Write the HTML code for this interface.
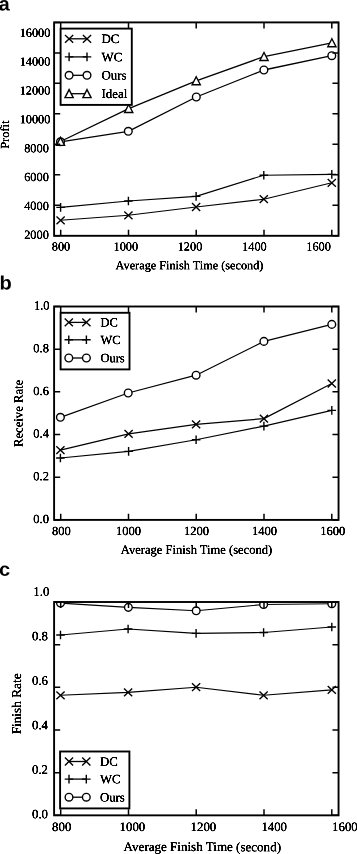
<!DOCTYPE html>
<html lang="en"><head><meta charset="utf-8"><title>Figure</title>
<style>html,body{margin:0;padding:0;background:#fff}svg{display:block}text{font-family:"Liberation Serif", serif;fill:#000}text.pl{font-family:"Liberation Sans", sans-serif;font-weight:bold}</style>
</head><body>
<svg width="357" height="854" viewBox="0 0 357 854">
<rect width="357" height="854" fill="#fff"/>
<defs><filter id="tw" filterUnits="userSpaceOnUse" x="0" y="0" width="357" height="854" color-interpolation-filters="sRGB"><feComponentTransfer><feFuncA type="linear" slope="2.0" intercept="0"/></feComponentTransfer></filter></defs>
<!-- chart a -->
<clipPath id="clip1"><rect x="54.1" y="22.4" width="284.45" height="213.4"/></clipPath>
<g clip-path="url(#clip1)">
<polyline points="60.6,220.3 128.4,215.3 196.1,207 263.8,199.2 331.8,182.8" fill="none" stroke="#000" stroke-width="1.15" stroke-linejoin="round"/>
<polyline points="60.6,207.4 128.4,201 196.1,196.4 263.8,175.2 331.8,174.4" fill="none" stroke="#000" stroke-width="1.15" stroke-linejoin="round"/>
<polyline points="60.5,141.8 128.3,131.3 196.3,97 263.9,70 331.8,55.7" fill="none" stroke="#000" stroke-width="1.3" stroke-linejoin="round"/>
<polyline points="60.5,141.5 128.7,108.6 196.2,80.8 264,56.6 331.9,42.9" fill="none" stroke="#000" stroke-width="1.3" stroke-linejoin="round"/>
<path d="M56.5 216.4L64.7 224.2M56.5 224.2L64.7 216.4" fill="none" stroke="#000" stroke-width="1.4"/>
<path d="M124.3 211.4L132.5 219.2M124.3 219.2L132.5 211.4" fill="none" stroke="#000" stroke-width="1.4"/>
<path d="M192 203.1L200.2 210.9M192 210.9L200.2 203.1" fill="none" stroke="#000" stroke-width="1.4"/>
<path d="M259.7 195.3L267.9 203.1M259.7 203.1L267.9 195.3" fill="none" stroke="#000" stroke-width="1.4"/>
<path d="M327.7 178.9L335.9 186.7M327.7 186.7L335.9 178.9" fill="none" stroke="#000" stroke-width="1.4"/>
<path d="M56.3 207.4L64.9 207.4M60.6 203.1L60.6 211.7" fill="none" stroke="#000" stroke-width="1.4"/>
<path d="M124.1 201L132.7 201M128.4 196.7L128.4 205.3" fill="none" stroke="#000" stroke-width="1.4"/>
<path d="M191.8 196.4L200.4 196.4M196.1 192.1L196.1 200.7" fill="none" stroke="#000" stroke-width="1.4"/>
<path d="M259.5 175.2L268.1 175.2M263.8 170.9L263.8 179.5" fill="none" stroke="#000" stroke-width="1.4"/>
<path d="M327.5 174.4L336.1 174.4M331.8 170.1L331.8 178.7" fill="none" stroke="#000" stroke-width="1.4"/>
<circle cx="60.5" cy="141.8" r="3.85" fill="#fff" stroke="#000" stroke-width="1.4"/>
<circle cx="128.3" cy="131.3" r="3.85" fill="#fff" stroke="#000" stroke-width="1.4"/>
<circle cx="196.3" cy="97" r="3.85" fill="#fff" stroke="#000" stroke-width="1.4"/>
<circle cx="263.9" cy="70" r="3.85" fill="#fff" stroke="#000" stroke-width="1.4"/>
<circle cx="331.8" cy="55.7" r="3.85" fill="#fff" stroke="#000" stroke-width="1.4"/>
<path d="M60.5 137.4L64.6 145.4L56.4 145.4Z" fill="#fff" stroke="#000" stroke-width="1.4" stroke-linejoin="miter"/>
<path d="M128.7 104.5L132.8 112.5L124.6 112.5Z" fill="#fff" stroke="#000" stroke-width="1.4" stroke-linejoin="miter"/>
<path d="M196.2 76.7L200.3 84.7L192.1 84.7Z" fill="#fff" stroke="#000" stroke-width="1.4" stroke-linejoin="miter"/>
<path d="M264 52.5L268.1 60.5L259.9 60.5Z" fill="#fff" stroke="#000" stroke-width="1.4" stroke-linejoin="miter"/>
<path d="M331.9 38.8L336 46.8L327.8 46.8Z" fill="#fff" stroke="#000" stroke-width="1.4" stroke-linejoin="miter"/>
</g>
<path d="M60.7 235.8V229.7M60.7 22.4V28.5M128.5 235.8V229.7M128.5 22.4V28.5M196.2 235.8V229.7M196.2 22.4V28.5M264 235.8V229.7M264 22.4V28.5M331.8 235.8V229.7M331.8 22.4V28.5M54.1 235.8H60.2M338.55 235.8H332.45M54.1 205.31H60.2M338.55 205.31H332.45M54.1 174.83H60.2M338.55 174.83H332.45M54.1 144.34H60.2M338.55 144.34H332.45M54.1 113.86H60.2M338.55 113.86H332.45M54.1 83.37H60.2M338.55 83.37H332.45M54.1 52.89H60.2M338.55 52.89H332.45M54.1 22.4H60.2M338.55 22.4H332.45" fill="none" stroke="#000" stroke-width="1.5"/>
<rect x="54.1" y="22.4" width="284.45" height="213.4" fill="none" stroke="#000" stroke-width="1.9"/>
<rect x="60.6" y="28.6" width="71.2" height="76.3" fill="#fff" stroke="#000" stroke-width="1.9"/>
<path d="M69.1 38.8H87" stroke="#000" stroke-width="1.3"/>
<path d="M65 34.9L73.2 42.7M65 42.7L73.2 34.9" fill="none" stroke="#000" stroke-width="1.4"/>
<path d="M82.9 34.9L91.1 42.7M82.9 42.7L91.1 34.9" fill="none" stroke="#000" stroke-width="1.4"/>
<path d="M69.1 56.9H87" stroke="#000" stroke-width="1.3"/>
<path d="M64.8 56.9L73.4 56.9M69.1 52.6L69.1 61.2" fill="none" stroke="#000" stroke-width="1.4"/>
<path d="M82.7 56.9L91.3 56.9M87 52.6L87 61.2" fill="none" stroke="#000" stroke-width="1.4"/>
<path d="M69.1 75.3H87" stroke="#000" stroke-width="1.3"/>
<circle cx="69.1" cy="75.3" r="3.85" fill="#fff" stroke="#000" stroke-width="1.4"/>
<circle cx="87" cy="75.3" r="3.85" fill="#fff" stroke="#000" stroke-width="1.4"/>
<path d="M69.1 93.7H87" stroke="#000" stroke-width="1.3"/>
<path d="M69.1 89.6L73.2 97.6L65 97.6Z" fill="#fff" stroke="#000" stroke-width="1.4" stroke-linejoin="miter"/>
<path d="M87 89.6L91.1 97.6L82.9 97.6Z" fill="#fff" stroke="#000" stroke-width="1.4" stroke-linejoin="miter"/>
<text transform="translate(-1.2 10.5) rotate(0.05) scale(1.0 1)" font-size="19.7" class="pl">a</text>
<!-- chart b -->
<clipPath id="clip2"><rect x="54.1" y="306.5" width="284.45" height="213.4"/></clipPath>
<g clip-path="url(#clip2)">
<polyline points="60.4,450.1 128.6,433.8 196.1,424.4 263.9,418.6 331.8,383.5" fill="none" stroke="#000" stroke-width="1.2" stroke-linejoin="round"/>
<polyline points="60.4,458 128.6,451.4 196.1,439.8 263.9,426.1 331.8,410.4" fill="none" stroke="#000" stroke-width="1.15" stroke-linejoin="round"/>
<polyline points="60.4,417.3 128.2,393 196.1,375.2 263.9,341.4 331.8,324.4" fill="none" stroke="#000" stroke-width="1.25" stroke-linejoin="round"/>
<path d="M56.3 446.2L64.5 454M56.3 454L64.5 446.2" fill="none" stroke="#000" stroke-width="1.4"/>
<path d="M124.5 429.9L132.7 437.7M124.5 437.7L132.7 429.9" fill="none" stroke="#000" stroke-width="1.4"/>
<path d="M192 420.5L200.2 428.3M192 428.3L200.2 420.5" fill="none" stroke="#000" stroke-width="1.4"/>
<path d="M259.8 414.7L268 422.5M259.8 422.5L268 414.7" fill="none" stroke="#000" stroke-width="1.4"/>
<path d="M327.7 379.6L335.9 387.4M327.7 387.4L335.9 379.6" fill="none" stroke="#000" stroke-width="1.4"/>
<path d="M56.1 458L64.7 458M60.4 453.7L60.4 462.3" fill="none" stroke="#000" stroke-width="1.4"/>
<path d="M124.3 451.4L132.9 451.4M128.6 447.1L128.6 455.7" fill="none" stroke="#000" stroke-width="1.4"/>
<path d="M191.8 439.8L200.4 439.8M196.1 435.5L196.1 444.1" fill="none" stroke="#000" stroke-width="1.4"/>
<path d="M259.6 426.1L268.2 426.1M263.9 421.8L263.9 430.4" fill="none" stroke="#000" stroke-width="1.4"/>
<path d="M327.5 410.4L336.1 410.4M331.8 406.1L331.8 414.7" fill="none" stroke="#000" stroke-width="1.4"/>
<circle cx="60.4" cy="417.3" r="3.85" fill="#fff" stroke="#000" stroke-width="1.4"/>
<circle cx="128.2" cy="393" r="3.85" fill="#fff" stroke="#000" stroke-width="1.4"/>
<circle cx="196.1" cy="375.2" r="3.85" fill="#fff" stroke="#000" stroke-width="1.4"/>
<circle cx="263.9" cy="341.4" r="3.85" fill="#fff" stroke="#000" stroke-width="1.4"/>
<circle cx="331.8" cy="324.4" r="3.85" fill="#fff" stroke="#000" stroke-width="1.4"/>
</g>
<path d="M60.7 519.9V513.8M60.7 306.5V312.6M128.5 519.9V513.8M128.5 306.5V312.6M196.2 519.9V513.8M196.2 306.5V312.6M264 519.9V513.8M264 306.5V312.6M331.8 519.9V513.8M331.8 306.5V312.6M54.1 519.9H60.2M338.55 519.9H332.45M54.1 477.22H60.2M338.55 477.22H332.45M54.1 434.54H60.2M338.55 434.54H332.45M54.1 391.86H60.2M338.55 391.86H332.45M54.1 349.18H60.2M338.55 349.18H332.45M54.1 306.5H60.2M338.55 306.5H332.45" fill="none" stroke="#000" stroke-width="1.5"/>
<rect x="54.1" y="306.5" width="284.45" height="213.4" fill="none" stroke="#000" stroke-width="1.9"/>
<rect x="60.6" y="312.8" width="68.9" height="56.6" fill="#fff" stroke="#000" stroke-width="1.9"/>
<path d="M68.8 322.4H86.4" stroke="#000" stroke-width="1.3"/>
<path d="M64.7 318.5L72.9 326.3M64.7 326.3L72.9 318.5" fill="none" stroke="#000" stroke-width="1.4"/>
<path d="M82.3 318.5L90.5 326.3M82.3 326.3L90.5 318.5" fill="none" stroke="#000" stroke-width="1.4"/>
<path d="M68.8 339.8H86.4" stroke="#000" stroke-width="1.3"/>
<path d="M64.5 339.8L73.1 339.8M68.8 335.5L68.8 344.1" fill="none" stroke="#000" stroke-width="1.4"/>
<path d="M82.1 339.8L90.7 339.8M86.4 335.5L86.4 344.1" fill="none" stroke="#000" stroke-width="1.4"/>
<path d="M68.8 358H86.4" stroke="#000" stroke-width="1.3"/>
<circle cx="68.8" cy="358" r="3.85" fill="#fff" stroke="#000" stroke-width="1.4"/>
<circle cx="86.4" cy="358" r="3.85" fill="#fff" stroke="#000" stroke-width="1.4"/>
<text transform="translate(-0.6 289.4) rotate(0.05) scale(1.03 1)" font-size="19.5" class="pl">b</text>
<!-- chart c -->
<clipPath id="clip3"><rect x="54.1" y="602" width="284.45" height="213.35"/></clipPath>
<g clip-path="url(#clip3)">
<polyline points="60.5,695.3 128.1,692.4 196.1,687.2 263.6,695.3 331.8,689.9" fill="none" stroke="#000" stroke-width="1.1" stroke-linejoin="round"/>
<polyline points="60.5,635 128.1,629 196.1,633.4 263.6,632.5 331.8,627" fill="none" stroke="#000" stroke-width="1.1" stroke-linejoin="round"/>
<polyline points="60.5,603.1 128.35,607.35 196.2,610.8 263.6,604.5 331.8,603.7" fill="none" stroke="#000" stroke-width="1.1" stroke-linejoin="round"/>
<path d="M56.4 691.4L64.6 699.2M56.4 699.2L64.6 691.4" fill="none" stroke="#000" stroke-width="1.4"/>
<path d="M124 688.5L132.2 696.3M124 696.3L132.2 688.5" fill="none" stroke="#000" stroke-width="1.4"/>
<path d="M192 683.3L200.2 691.1M192 691.1L200.2 683.3" fill="none" stroke="#000" stroke-width="1.4"/>
<path d="M259.5 691.4L267.7 699.2M259.5 699.2L267.7 691.4" fill="none" stroke="#000" stroke-width="1.4"/>
<path d="M327.7 686L335.9 693.8M327.7 693.8L335.9 686" fill="none" stroke="#000" stroke-width="1.4"/>
<path d="M56.2 635L64.8 635M60.5 630.7L60.5 639.3" fill="none" stroke="#000" stroke-width="1.4"/>
<path d="M123.8 629L132.4 629M128.1 624.7L128.1 633.3" fill="none" stroke="#000" stroke-width="1.4"/>
<path d="M191.8 633.4L200.4 633.4M196.1 629.1L196.1 637.7" fill="none" stroke="#000" stroke-width="1.4"/>
<path d="M259.3 632.5L267.9 632.5M263.6 628.2L263.6 636.8" fill="none" stroke="#000" stroke-width="1.4"/>
<path d="M327.5 627L336.1 627M331.8 622.7L331.8 631.3" fill="none" stroke="#000" stroke-width="1.4"/>
<circle cx="60.5" cy="603.1" r="3.85" fill="#fff" stroke="#000" stroke-width="1.4"/>
<circle cx="128.35" cy="607.35" r="3.85" fill="#fff" stroke="#000" stroke-width="1.4"/>
<circle cx="196.2" cy="610.8" r="3.85" fill="#fff" stroke="#000" stroke-width="1.4"/>
<circle cx="263.6" cy="604.5" r="3.85" fill="#fff" stroke="#000" stroke-width="1.4"/>
<circle cx="331.8" cy="603.7" r="3.85" fill="#fff" stroke="#000" stroke-width="1.4"/>
</g>
<path d="M60.7 815.35V809.25M60.7 602V608.1M128.5 815.35V809.25M128.5 602V608.1M196.2 815.35V809.25M196.2 602V608.1M264 815.35V809.25M264 602V608.1M331.8 815.35V809.25M331.8 602V608.1M54.1 815.35H60.2M338.55 815.35H332.45M54.1 772.68H60.2M338.55 772.68H332.45M54.1 730.01H60.2M338.55 730.01H332.45M54.1 687.34H60.2M338.55 687.34H332.45M54.1 644.67H60.2M338.55 644.67H332.45M54.1 602H60.2M338.55 602H332.45" fill="none" stroke="#000" stroke-width="1.5"/>
<rect x="54.1" y="602" width="284.45" height="213.35" fill="none" stroke="#000" stroke-width="1.9"/>
<rect x="60.1" y="751.5" width="69.3" height="56.9" fill="#fff" stroke="#000" stroke-width="1.9"/>
<path d="M69 761.5H86.3" stroke="#000" stroke-width="1.3"/>
<path d="M64.9 757.6L73.1 765.4M64.9 765.4L73.1 757.6" fill="none" stroke="#000" stroke-width="1.4"/>
<path d="M82.2 757.6L90.4 765.4M82.2 765.4L90.4 757.6" fill="none" stroke="#000" stroke-width="1.4"/>
<path d="M69 779.1H86.3" stroke="#000" stroke-width="1.3"/>
<path d="M64.7 779.1L73.3 779.1M69 774.8L69 783.4" fill="none" stroke="#000" stroke-width="1.4"/>
<path d="M82 779.1L90.6 779.1M86.3 774.8L86.3 783.4" fill="none" stroke="#000" stroke-width="1.4"/>
<path d="M69 797.2H86.3" stroke="#000" stroke-width="1.3"/>
<circle cx="69" cy="797.2" r="3.85" fill="#fff" stroke="#000" stroke-width="1.4"/>
<circle cx="86.3" cy="797.2" r="3.85" fill="#fff" stroke="#000" stroke-width="1.4"/>
<text transform="translate(-0.9 575.7) rotate(0.05) scale(1.06 1)" font-size="18.9" class="pl">c</text>
<g filter="url(#tw)">
<text transform="translate(101.5 43.06) rotate(0.05)" font-size="12.9">DC</text>
<text transform="translate(101.5 61.16) rotate(0.05)" font-size="12.9">WC</text>
<text transform="translate(101.5 79.56) rotate(0.05)" font-size="12.9">Ours</text>
<text transform="translate(101.5 97.96) rotate(0.05)" font-size="12.9">Ideal</text>
<text transform="translate(48.8 238.76) rotate(0.05)" font-size="12.3" text-anchor="end">2000</text>
<text transform="translate(48.8 209.89) rotate(0.05)" font-size="12.3" text-anchor="end">4000</text>
<text transform="translate(48.8 181.02) rotate(0.05)" font-size="12.3" text-anchor="end">6000</text>
<text transform="translate(48.8 152.15) rotate(0.05)" font-size="12.3" text-anchor="end">8000</text>
<text transform="translate(50.4 123.28) rotate(0.05)" font-size="12.3" text-anchor="end">10000</text>
<text transform="translate(50.4 94.41) rotate(0.05)" font-size="12.3" text-anchor="end">12000</text>
<text transform="translate(50.4 65.54) rotate(0.05)" font-size="12.3" text-anchor="end">14000</text>
<text transform="translate(50.4 36.67) rotate(0.05)" font-size="12.3" text-anchor="end">16000</text>
<text transform="translate(61 250.4) rotate(0.05)" font-size="12.3" text-anchor="middle">800</text>
<text transform="translate(125.8 250.4) rotate(0.05)" font-size="12.3" text-anchor="middle">1000</text>
<text transform="translate(190 250.4) rotate(0.05)" font-size="12.3" text-anchor="middle">1200</text>
<text transform="translate(254.4 250.4) rotate(0.05)" font-size="12.3" text-anchor="middle">1400</text>
<text transform="translate(318.6 250.4) rotate(0.05)" font-size="12.3" text-anchor="middle">1600</text>
<text transform="translate(189.5 269.2) rotate(0.05)" font-size="12.25" text-anchor="middle">Average Finish Time (second)</text>
<text transform="translate(9 134.65) rotate(-89.95)" font-size="12.45" text-anchor="middle">Profit</text>
<text transform="translate(100.4 326.52) rotate(0.05)" font-size="12.5">DC</text>
<text transform="translate(100.4 343.93) rotate(0.05)" font-size="12.5">WC</text>
<text transform="translate(100.4 362.12) rotate(0.05)" font-size="12.5">Ours</text>
<text transform="translate(48.9 522.93) rotate(0.05)" font-size="12.5" text-anchor="end">0.0</text>
<text transform="translate(48.9 480.25) rotate(0.05)" font-size="12.5" text-anchor="end">0.2</text>
<text transform="translate(48.9 437.57) rotate(0.05)" font-size="12.5" text-anchor="end">0.4</text>
<text transform="translate(48.9 394.89) rotate(0.05)" font-size="12.5" text-anchor="end">0.6</text>
<text transform="translate(48.9 352.21) rotate(0.05)" font-size="12.5" text-anchor="end">0.8</text>
<text transform="translate(49.5 309.53) rotate(0.05)" font-size="12.5" text-anchor="end">1.0</text>
<text transform="translate(61.3 535) rotate(0.05)" font-size="12.5" text-anchor="middle">800</text>
<text transform="translate(128.5 535) rotate(0.05)" font-size="12.5" text-anchor="middle">1000</text>
<text transform="translate(196.6 535) rotate(0.05)" font-size="12.5" text-anchor="middle">1200</text>
<text transform="translate(264.4 535) rotate(0.05)" font-size="12.5" text-anchor="middle">1400</text>
<text transform="translate(332.7 535) rotate(0.05)" font-size="12.5" text-anchor="middle">1600</text>
<text transform="translate(196.5 553.8) rotate(0.05)" font-size="12.55" text-anchor="middle">Average Finish Time (second)</text>
<text transform="translate(22.6 413.4) rotate(-89.95)" font-size="12.68" text-anchor="middle">Receive Rate</text>
<text transform="translate(99.9 765.72) rotate(0.05)" font-size="12.8">DC</text>
<text transform="translate(99.9 783.32) rotate(0.05)" font-size="12.8">WC</text>
<text transform="translate(99.9 801.42) rotate(0.05)" font-size="12.8">Ours</text>
<text transform="translate(48 818.23) rotate(0.05)" font-size="12.8" text-anchor="end">0.0</text>
<text transform="translate(48 773.73) rotate(0.05)" font-size="12.8" text-anchor="end">0.2</text>
<text transform="translate(48 729.23) rotate(0.05)" font-size="12.8" text-anchor="end">0.4</text>
<text transform="translate(48 684.73) rotate(0.05)" font-size="12.8" text-anchor="end">0.6</text>
<text transform="translate(48 640.23) rotate(0.05)" font-size="12.8" text-anchor="end">0.8</text>
<text transform="translate(49.3 595.73) rotate(0.05)" font-size="12.8" text-anchor="end">1.0</text>
<text transform="translate(61.7 830.9) rotate(0.05)" font-size="12.8" text-anchor="middle">800</text>
<text transform="translate(132.4 830.9) rotate(0.05)" font-size="12.8" text-anchor="middle">1000</text>
<text transform="translate(203.4 830.9) rotate(0.05)" font-size="12.8" text-anchor="middle">1200</text>
<text transform="translate(274.2 830.9) rotate(0.05)" font-size="12.8" text-anchor="middle">1400</text>
<text transform="translate(344.9 830.9) rotate(0.05)" font-size="12.8" text-anchor="middle">1600</text>
<text transform="translate(202.3 851.1) rotate(0.05)" font-size="13.05" text-anchor="middle">Average Finish Time (second)</text>
<text transform="translate(21.1 703.9) rotate(-89.95)" font-size="13.3" text-anchor="middle">Finish Rate</text>
</g>
</svg>
</body></html>
